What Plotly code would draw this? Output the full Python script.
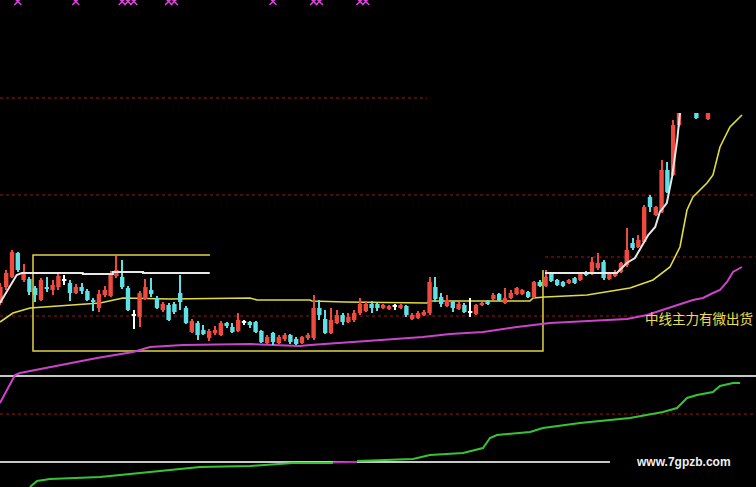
import plotly.graph_objects as go

# ---------------- candle data (price units) ----------------
opens = [7.3, 8.9, 9.9, 12.3, 9.6, 9.7, 8.8, 7.6, 8.9, 8.6,
         8.9, 9.6, 9.3, 8.3, 8.9, 8.5, 7.6, 6.8, 8.1, 8.0,
         10.0, 9.9, 8.8, 6.1, 5.9, 7.7, 8.6, 7.8, 6.6, 7.1,
         7.2, 8.3, 6.8, 4.4, 5.3, 4.6, 3.8, 4.3, 4.1, 5.3,
         4.9, 4.5, 5.4, 5.4, 5.4, 4.5, 3.3, 4.3, 3.3, 3.7,
         4.1, 3.7, 3.3, 3.8, 3.8, 6.8, 5.7, 4.3, 5.3, 6.1,
         5.4, 5.6, 6.3, 6.5, 7.2, 7.2, 6.8, 6.7, 7.0, 6.8,
         7.0, 5.7, 5.8, 6.1, 6.3, 8.9, 7.9, 7.0, 7.4, 6.7,
         7.1, 6.4, 6.2, 7.1, 7.5, 7.7, 8.2, 7.3, 7.8, 8.2,
         8.2, 8.4, 7.9, 9.4, 9.0, 10.3, 9.6, 9.4, 9.3, 9.8,
         9.6, 10.4, 10.3, 10.8, 11.4, 9.7, 10.0, 10.4, 11.1, 13.3,
         12.9, 13.4, 17.9, 16.1, 16.4, 20.6, 20.1, 25.1, 28.1, 31.1,
         28.1, 30.6, 25.7]
highs = [9.3, 10.6, 12.6, 12.4, 11.2, 9.9, 9.0, 9.8, 9.9, 9.6,
         10.4, 10.1, 9.6, 9.2, 9.3, 8.7, 7.8, 8.6, 9.0, 10.5,
         12.0, 11.6, 9.0, 6.6, 8.5, 9.7, 9.8, 8.0, 7.4, 7.3,
         7.4, 10.1, 7.0, 5.7, 5.5, 5.1, 4.7, 5.0, 5.5, 5.4,
         5.3, 6.3, 5.6, 5.5, 5.5, 4.6, 4.1, 4.4, 4.1, 4.3,
         4.2, 3.9, 4.0, 4.3, 8.1, 7.6, 6.6, 6.8, 6.6, 6.3,
         6.3, 6.6, 7.8, 7.5, 7.5, 7.3, 7.2, 7.1, 7.2, 7.2,
         7.1, 6.3, 6.5, 6.6, 9.9, 9.9, 8.3, 8.1, 7.5, 7.4,
         7.3, 7.8, 7.2, 7.4, 7.6, 8.3, 8.3, 8.8, 8.6, 8.9,
         8.7, 8.5, 9.5, 9.6, 10.6, 10.4, 9.7, 9.5, 9.7, 9.9,
         10.4, 10.5, 11.9, 12.3, 11.6, 10.4, 10.6, 11.4, 14.8, 13.8,
         14.1, 17.1, 18.1, 17.0, 21.6, 21.4, 25.6, 29.1, 32.1, 34.1,
         28.6, 33.6, 28.1]
lows = [7.1, 8.6, 9.8, 10.4, 9.4, 8.1, 7.4, 7.5, 8.4, 8.1,
        8.6, 9.1, 7.5, 8.2, 8.2, 7.5, 6.5, 6.4, 7.9, 7.9,
        9.8, 8.7, 6.5, 4.7, 4.9, 7.6, 7.9, 6.7, 6.4, 5.5,
        6.2, 6.6, 5.2, 4.3, 3.6, 4.1, 3.5, 4.1, 4.0, 4.8,
        4.3, 4.4, 5.1, 4.8, 4.3, 3.3, 3.2, 3.1, 3.2, 3.5,
        3.2, 3.1, 3.2, 3.6, 3.6, 5.6, 4.2, 4.2, 5.2, 5.1,
        5.3, 5.4, 6.1, 6.4, 6.3, 6.5, 6.7, 6.6, 6.6, 6.7,
        5.9, 5.6, 5.7, 6.0, 6.1, 7.4, 6.9, 6.9, 6.4, 6.6,
        6.3, 5.9, 6.1, 7.0, 7.1, 7.6, 7.5, 7.2, 7.7, 8.1,
        8.1, 7.8, 7.8, 8.9, 8.9, 9.4, 9.0, 8.9, 9.2, 9.2,
        9.5, 10.0, 10.1, 10.6, 9.6, 9.6, 9.9, 10.3, 10.9, 12.6,
        12.8, 13.3, 16.4, 16.0, 16.3, 18.3, 20.0, 24.9, 27.6, 30.6,
        25.7, 30.1, 25.6]
closes = [8.9, 10.3, 12.4, 10.6, 10.4, 8.4, 8.1, 9.6, 8.7, 9.1,
          10.0, 9.6, 8.3, 8.9, 8.5, 7.6, 7.4, 8.2, 8.6, 10.3,
          10.6, 8.9, 6.6, 6.1, 8.3, 8.9, 8.2, 6.8, 7.2, 5.6,
          6.4, 7.4, 5.3, 5.5, 4.1, 4.2, 4.5, 4.6, 5.3, 5.0,
          4.4, 5.6, 5.4, 5.1, 4.4, 3.4, 3.9, 3.4, 3.9, 4.1,
          3.4, 3.2, 3.9, 4.1, 6.8, 6.1, 4.3, 5.6, 6.1, 5.4,
          5.9, 6.3, 7.2, 7.2, 6.8, 6.8, 7.1, 7.0, 7.0, 7.1,
          6.1, 6.1, 6.3, 6.4, 9.4, 7.7, 7.2, 7.6, 6.8, 7.2,
          6.4, 6.4, 7.1, 7.3, 7.2, 8.1, 7.6, 7.8, 8.3, 8.8,
          8.6, 7.9, 9.4, 9.0, 9.9, 9.5, 9.1, 9.0, 9.6, 9.3,
          10.3, 10.1, 11.4, 11.3, 9.8, 10.3, 10.4, 11.3, 12.6, 12.8,
          13.6, 16.9, 16.9, 16.9, 20.6, 18.4, 25.1, 28.6, 31.6, 33.6,
          25.8, 33.1, 27.6]

# ---------------- indicator lines (bar index, value) ----------------
white_x = [-0.07, 1.66, 2.81, 3.67, 14.2, 14.2, 19.4, 19.4, 24.6, 24.6, 36.1, None,
           93.9, 106.3, 106.8, 108.0, 109.4, 109.9, 110.8, 111.7, 112.9, 113.7,
           114.9, 115.8, 116.7, 117.3]
white_y = [7.3, 8.9, 10.1, 10.3, 10.3, 10.2, 10.2, 10.4, 10.4, 10.3, 10.3, None,
           10.3, 10.3, 10.6, 11.3, 11.8, 12.3, 13.3, 14.1, 14.9, 16.4,
           17.3, 19.9, 23.6, 27.1]

yellow_x = [-0.07, 2.17, 5.10, 11.48, 17.17, 21.14, 29.24, 43.03, 44.24, 53.38,
            53.72, 59.41, 73.55, 74.07, 91.31, 91.83, 93.9, 101.14, 108.55, 112.52,
            115.45, 117.17, 118.38, 119.41, 121.83, 122.86, 124.07, 125.79, 127.86]
yellow_y = [5.4, 6.3, 6.8, 7.1, 7.3, 7.8, 7.7, 7.8, 7.6, 7.6,
            7.5, 7.4, 7.3, 7.5, 7.5, 7.8, 7.9, 8.1, 8.8, 9.6,
            10.9, 12.9, 16.6, 17.9, 19.3, 20.1, 22.9, 24.9, 26.1]

magenta_x = [-0.07, 2.52, 3.38, 8.55, 16.66, 22.86, 25.79, 31.48, 43.03, 51.66,
             53.38, 63.21, 72.86, 77.52, 83.21, 89.07, 94.76, 108.03, 111.48, 119.41,
             121.14, 122.86, 124.07, 125.28, 126.31, 127.86]
magenta_y = [-2.7, 0.1, 0.3, 0.9, 1.8, 2.4, 2.9, 3.1, 3.2, 3.0,
             3.1, 3.5, 3.9, 4.2, 4.4, 4.9, 5.3, 5.7, 6.1, 7.6,
             7.8, 8.3, 8.6, 9.4, 10.4, 10.9]

box_x = [36.14, 5.62, 5.62, 93.55, 93.55]
box_y = [12.1, 12.1, 2.5, 2.5, 10.6]

top_marks_x = [3, 13, 21, 22, 23, 29, 30, 47, 54, 55, 62, 63]
top_marks_y = [37.45] * len(top_marks_x)

# lower panel indicator
green_x1 = [5.1, 6.31, 8.55, 17.17, 25.79, 34.41, 43.03, 50.45, 57.34]
green_y1 = [0.0, 0.6, 0.8, 1.0, 1.5, 2.0, 2.1, 2.4, 2.4]
green_mag_x = [57.34, 61.48]
green_mag_y = [2.45, 2.5]
green_x2 = [61.48, 65.45, 71.14, 74.07, 79.76, 83.21, 84.41, 85.62, 91.31, 93.55,
            99.93, 108.55, 114.24, 116.66, 118.38, 120.1, 122.86, 124.07, 126.31, 127.52]
green_y2 = [2.6, 2.7, 2.8, 3.2, 3.4, 3.9, 4.9, 5.2, 5.5, 5.9,
            6.4, 6.9, 7.5, 7.9, 8.9, 9.2, 9.5, 10.1, 10.4, 10.4]

# reference / grid levels: (level, x_start, x_end)
main_dotted = [(27.8, -0.07, 73.6), (18.1, -0.07, 130.3), (11.9, 93.9, 130.3), (6.0, -0.07, 130.3)]
lower_dotted = [(7.3, -0.07, 130.3)]
separator_level = 0.0
lower_white = (2.5, -0.07, 105.1)

label_text = "中线主力有微出货"
watermark = "www.7gpzb.com"

# ---------------- styles ----------------
RED = "#ee4a3f"
CYAN = "#5fe0e4"
WHITE = "#ffffff"
XR = [-0.069, 130.28]

idx = list(range(len(opens)))
colors = [RED if c > o else (CYAN if c < o else WHITE) for o, c in zip(opens, closes)]
body_base = [min(o, c) - (0.06 if o == c else 0) for o, c in zip(opens, closes)]
body_h = [max(abs(c - o), 0.12) for o, c in zip(opens, closes)]
wick_h = [h - l for h, l in zip(highs, lows)]

fig = go.Figure()

# grid lines
for lv, x0, x1 in main_dotted:
    fig.add_trace(go.Scatter(x=[x0, x1], y=[lv, lv], mode="lines", yaxis="y",
                             line=dict(color="#a01818", width=1, dash="dot"), hoverinfo="skip"))
for lv, x0, x1 in lower_dotted:
    fig.add_trace(go.Scatter(x=[x0, x1], y=[lv, lv], mode="lines", yaxis="y2",
                             line=dict(color="#a01818", width=1, dash="dot"), hoverinfo="skip"))
fig.add_trace(go.Scatter(x=[XR[0], XR[1]], y=[separator_level, separator_level], mode="lines",
                         yaxis="y", line=dict(color="#c8c8c8", width=2), hoverinfo="skip"))
fig.add_trace(go.Scatter(x=[lower_white[1], lower_white[2]], y=[lower_white[0]] * 2, mode="lines",
                         yaxis="y2", line=dict(color="#c8c8c8", width=2), hoverinfo="skip"))

# box
fig.add_trace(go.Scatter(x=box_x, y=box_y, mode="lines", yaxis="y",
                         line=dict(color="#e2d448", width=1.5), hoverinfo="skip"))

# indicator lines
fig.add_trace(go.Scatter(x=yellow_x, y=yellow_y, mode="lines", yaxis="y",
                         line=dict(color="#e0dc40", width=1.6), hoverinfo="skip"))
fig.add_trace(go.Scatter(x=magenta_x, y=magenta_y, mode="lines", yaxis="y",
                         line=dict(color="#cc44cc", width=2), hoverinfo="skip"))

# lower indicator
fig.add_trace(go.Scatter(x=green_x1, y=green_y1, mode="lines", yaxis="y2",
                         line=dict(color="#36c436", width=2), hoverinfo="skip"))
fig.add_trace(go.Scatter(x=green_mag_x, y=green_mag_y, mode="lines", yaxis="y2",
                         line=dict(color="#b030b0", width=2), hoverinfo="skip"))
fig.add_trace(go.Scatter(x=green_x2, y=green_y2, mode="lines", yaxis="y2",
                         line=dict(color="#36c436", width=2), hoverinfo="skip"))

# top signal marks
fig.add_trace(go.Scatter(x=top_marks_x, y=top_marks_y, mode="markers", yaxis="y",
                         marker=dict(symbol="x-thin", size=7, line=dict(color="#e040e0", width=1.5)),
                         hoverinfo="skip"))

# candles (clipped price pane)
fig.add_trace(go.Bar(x=idx, y=wick_h, base=lows, width=0.2, marker=dict(color=colors, line=dict(width=0)),
                     yaxis="y3", hoverinfo="skip"))
fig.add_trace(go.Bar(x=idx, y=body_h, base=body_base, width=0.76, marker=dict(color=colors, line=dict(width=0)),
                     yaxis="y3", hoverinfo="skip"))
fig.add_trace(go.Scatter(x=white_x, y=white_y, mode="lines", yaxis="y3",
                         line=dict(color="#e8e8e8", width=2), hoverinfo="skip", connectgaps=False))

fig.add_annotation(x=120.4, y=5.8, xref="x", yref="y", text=label_text, showarrow=False,
                   font=dict(family="Noto Sans CJK SC", size=13.5, color="#e8e050"))
fig.add_annotation(x=117.7, y=2.5, xref="x", yref="y2", text="<b>" + watermark + "</b>", showarrow=False,
                   font=dict(family="Liberation Sans, Arial", size=12, color="#f0f0f0"))

fig.update_layout(
    width=756, height=487,
    margin=dict(l=0, r=0, t=0, b=0),
    paper_bgcolor="#000000", plot_bgcolor="rgba(0,0,0,0)",
    showlegend=False, barmode="overlay",
    xaxis=dict(range=XR, visible=False, showgrid=False, zeroline=False),
    yaxis=dict(range=[-11.1, 37.6], domain=[0, 1], visible=False, showgrid=False, zeroline=False),
    yaxis2=dict(range=[0, 48.7], overlaying="y", visible=False, showgrid=False, zeroline=False),
    yaxis3=dict(range=[0, 26.3], domain=[111 / 487, 374 / 487], anchor="x", visible=False,
                showgrid=False, zeroline=False),
)

fig.write_html("out.html", config={"displayModeBar": False},
               post_script="document.body.style.margin='0';")
